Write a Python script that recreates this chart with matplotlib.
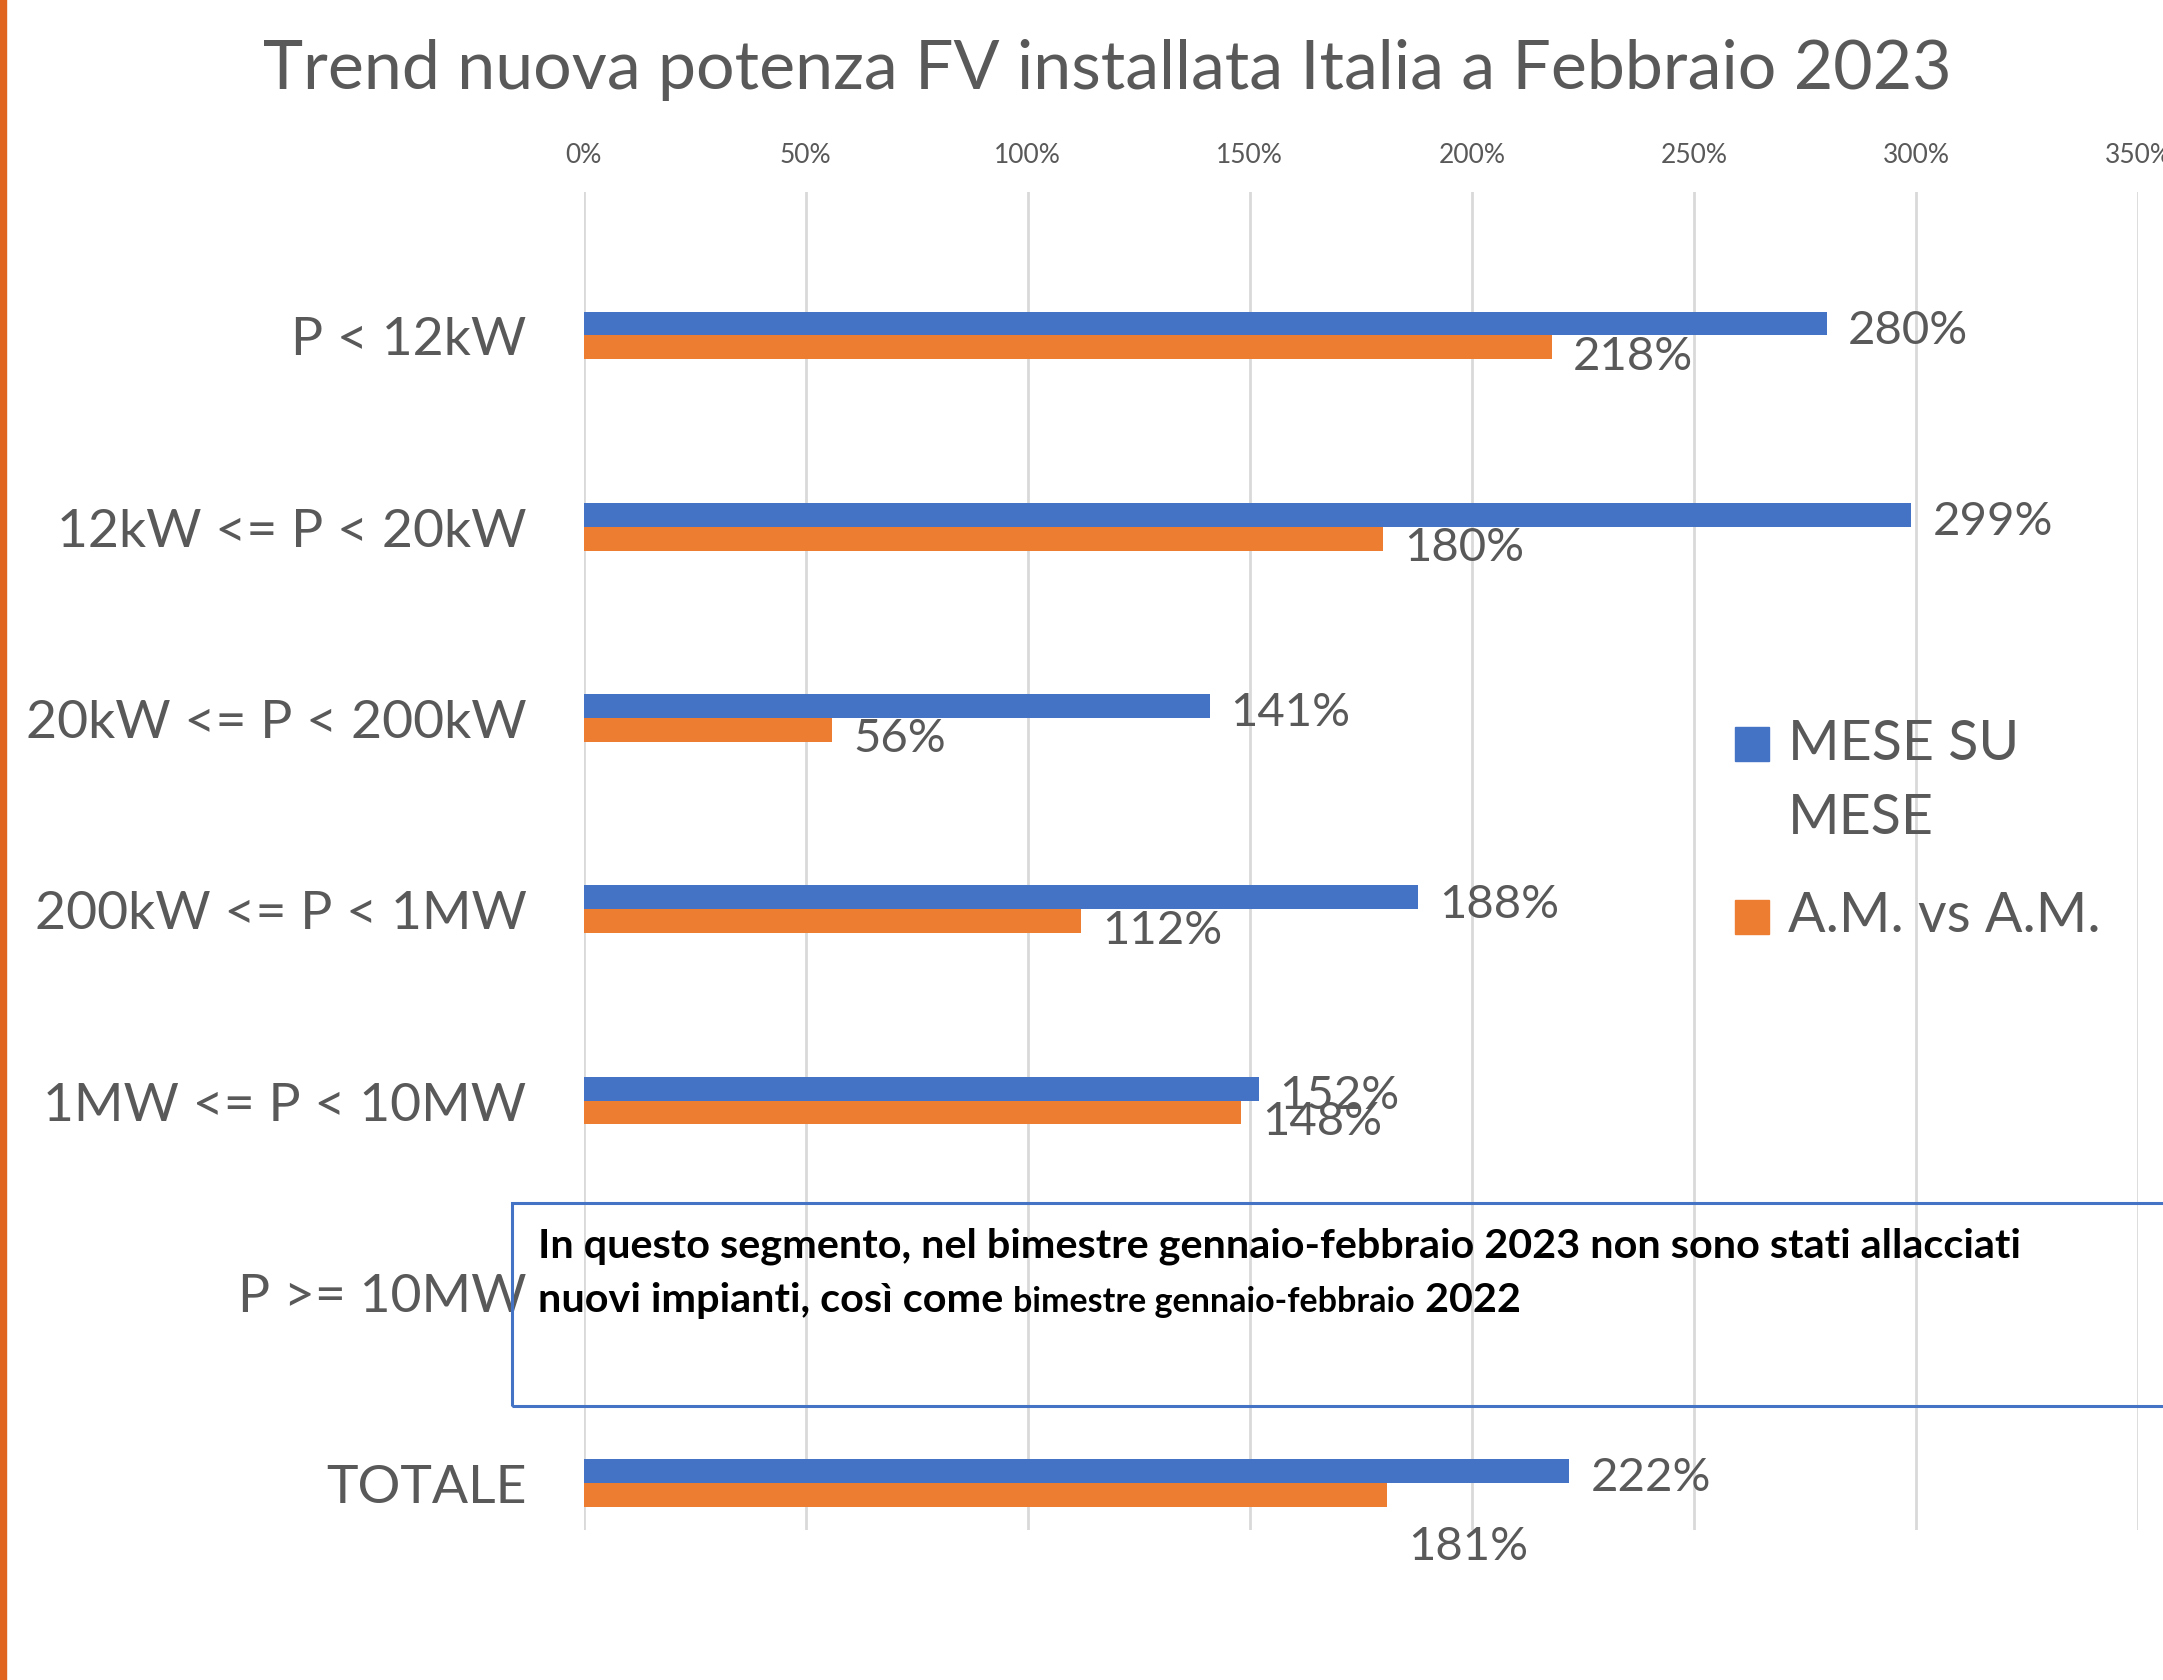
import numpy as np
import matplotlib
matplotlib.use("Agg")
import matplotlib.pyplot as plt
from matplotlib.patches import Rectangle

plt.rcParams['font.family'] = ['Lato', 'DejaVu Sans']

# ---- data ----
categories = ["P < 12kW", "12kW <= P < 20kW", "20kW <= P < 200kW",
              "200kW <= P < 1MW", "1MW <= P < 10MW", "P >= 10MW", "TOTALE"]
mese_su_mese = [280, 299, 141, 188, 152, np.nan, 222]
am_vs_am = [218, 180, 56, 112, 148, np.nan, 181]
series_names = ["MESE SU\nMESE", "A.M. vs A.M."]
series_colors = ["#4472C4", "#ED7D31"]
x_ticks = [0, 50, 100, 150, 200, 250, 300, 350]
x_tick_labels = [f"{v}%" for v in x_ticks]
title = "Trend nuova potenza FV installata Italia a Febbraio 2023"
note_line1 = "In questo segmento, nel bimestre gennaio-febbraio 2023 non sono stati allacciati"
note_line2 = ["nuovi impianti, così come ", "bimestre gennaio-febbraio", " 2022"]

W, H = 2163, 1681
fig = plt.figure(figsize=(W / 100, H / 100), dpi=100)
fig.patch.set_facecolor("white")

def fx(px):
    return px / W

def fy(py):
    return 1 - py / H

ax_left, ax_right, ax_top, ax_bot = 583.5, 2138, 193, 1531
ax = fig.add_axes([fx(ax_left), fy(ax_bot), fx(ax_right) - fx(ax_left), (ax_bot - ax_top) / H])

gray = "#595959"
y = np.arange(len(categories))
bh = 0.125
ax.barh(y - bh / 2, mese_su_mese, height=bh, color=series_colors[0], zorder=3)
ax.barh(y + bh / 2, am_vs_am, height=bh, color=series_colors[1], zorder=3)

lab_fs = 34
for i, v in enumerate(mese_su_mese):
    if np.isnan(v):
        continue
    ax.annotate(f"{v:.0f}%", (v, y[i] - bh / 2), xytext=(15, -4.5), textcoords="offset points",
                ha="left", va="center", fontsize=lab_fs, color=gray, zorder=4)
for i, v in enumerate(am_vs_am):
    if np.isnan(v):
        continue
    off = (15, -6) if i != len(am_vs_am) - 1 else (15, -37)
    ax.annotate(f"{v:.0f}%", (v, y[i] + bh / 2), xytext=off, textcoords="offset points",
                ha="left", va="center", fontsize=lab_fs, color=gray, zorder=4)

ax.set_xlim(0, 350)
ax.set_ylim(6.245, -0.75)
ax.set_xticks(x_ticks)
ax.set_xticklabels(x_tick_labels)
ax.xaxis.tick_top()
ax.tick_params(axis="x", length=0, pad=18, labelsize=19, labelcolor=gray)
ax.set_yticks(y)
ax.set_yticklabels(categories)
ax.tick_params(axis="y", length=0, pad=41, labelsize=38.5, labelcolor=gray)
ax.grid(axis="x", color="#D9D9D9", linewidth=2, zorder=0)
ax.set_axisbelow(True)
for s in ax.spines.values():
    s.set_visible(False)

# title
fig.text(fx(1107), fy(70), title, ha="center", va="center", fontsize=49, color=gray)

# legend (manual, Excel style)
sq = 34
leg_items = [(728, 745), (901, 917)]
line_step = 73
for (top, ty), name, col in zip(leg_items, series_names, series_colors):
    fig.add_artist(Rectangle((fx(1735), fy(top + sq)), sq / W, sq / H,
                             transform=fig.transFigure, color=col))
    for k, line in enumerate(name.split("\n")):
        fig.text(fx(1788), fy(ty + k * line_step), line, ha="left", va="center",
                 fontsize=40, color=gray)

# orange left border line
fig.add_artist(Rectangle((0, 0), 6 / W, 1, transform=fig.transFigure, color="#E0661F"))

# annotation box
fig.add_artist(Rectangle((fx(512), fy(1407)), (W + 10 - 512) / W, (1407 - 1204) / H,
                         transform=fig.transFigure, fill=False, edgecolor="#4472C4",
                         linewidth=2.2))
fig.text(fx(538), fy(1258), note_line1, ha="left", va="baseline", fontsize=29.8,
         fontweight="bold", color="black")
fig.canvas.draw()
renderer = fig.canvas.get_renderer()
xpos = 538
sizes = [29.8, 24.5, 29.8]
for piece, fs in zip(note_line2, sizes):
    t = fig.text(fx(xpos), fy(1312), piece, ha="left", va="baseline", fontsize=fs,
                 fontweight="bold", color="black")
    bb = t.get_window_extent(renderer)
    xpos += bb.width

fig.savefig("out.png", dpi=100)
